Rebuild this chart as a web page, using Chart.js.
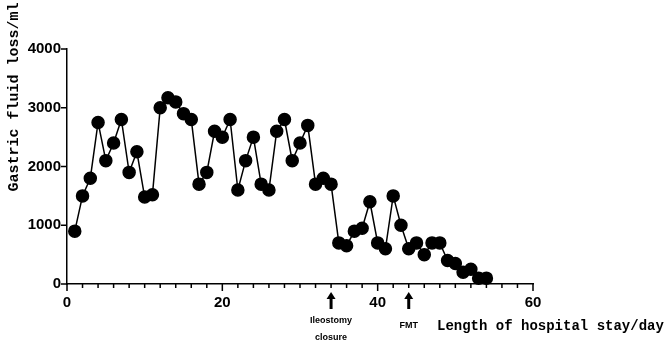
<!DOCTYPE html>
<html lang="en">
<head>
    <meta charset="UTF-8">
    <title>Gastric fluid loss by day</title>
    <script src="https://cdn.jsdelivr.net/npm/chart.js"></script>
    <style>
        html, body { margin: 0; padding: 0; background: #fff; }
        #wrap { width: 669px; height: 349px; }
    </style>
</head>
<body>
    <div id="wrap"><canvas id="fluidChart"></canvas></div>

    <script>
        // day of stay and gastric fluid loss (ml)
        const days = [1, 2, 3, 4, 5, 6, 7, 8, 9, 10, 11, 12, 13, 14, 15, 16, 17, 18,
            19, 20, 21, 22, 23, 24, 25, 26, 27, 28, 29, 30, 31, 32, 33, 34, 35, 36,
            37, 38, 39, 40, 41, 42, 43, 44, 45, 46, 47, 48, 49, 50, 51, 52, 53, 54];
        const fluidLoss = [900, 1500, 1800, 2750, 2100, 2400, 2800, 1900, 2250, 1480,
            1520, 3000, 3170, 3100, 2900, 2800, 1700, 1900, 2600, 2500, 2800, 1600,
            2100, 2500, 1700, 1600, 2600, 2800, 2100, 2400, 2700, 1700, 1800, 1700,
            700, 650, 900, 950, 1400, 700, 600, 1500, 1000, 600, 700, 500, 700, 700,
            400, 350, 200, 250, 100, 100];

        const xTicks = [0, 20, 40, 60];
        const yTicks = [0, 1000, 2000, 3000, 4000];

        // events marked under the x axis
        const eventDays = [34, 44];
        const eventLabels = [['Ileostomy', 'closure'], ['FMT']];

        const points = days.map((d, i) => ({ x: d, y: fluidLoss[i] }));

        // tick marks (major + minor), axis titles and event arrows
        const decorPlugin = {
            id: 'decor',
            afterDraw(chart) {
                const ctx = chart.ctx;
                const xs = chart.scales.x, ys = chart.scales.y;
                const left = xs.left, bottom = ys.bottom;
                ctx.save();
                ctx.strokeStyle = '#000';
                ctx.lineWidth = 1.5;
                ctx.beginPath();
                for (let v = 0; v <= 60; v += 2) {
                    const px = xs.getPixelForValue(v);
                    const len = (v % 20 === 0) ? 7 : 4;
                    ctx.moveTo(px, bottom);
                    ctx.lineTo(px, bottom + len);
                }
                yTicks.forEach(v => {
                    const py = ys.getPixelForValue(v);
                    ctx.moveTo(left, py);
                    ctx.lineTo(left - 6, py);
                });
                ctx.stroke();

                // arrows
                ctx.fillStyle = '#000';
                eventDays.forEach((d, i) => {
                    const px = xs.getPixelForValue(d);
                    const top = bottom + 8;
                    ctx.fillRect(px - 1.5, top + 6, 3, 11);
                    ctx.beginPath();
                    ctx.moveTo(px, top);
                    ctx.lineTo(px + 4.5, top + 7);
                    ctx.lineTo(px - 4.5, top + 7);
                    ctx.closePath();
                    ctx.fill();

                    ctx.font = 'bold 9px "Liberation Sans", sans-serif';
                    ctx.textAlign = 'center';
                    ctx.textBaseline = 'middle';
                    const lines = eventLabels[i];
                    const startY = lines.length > 1 ? bottom + 37 : bottom + 42;
                    lines.forEach((t, j) => ctx.fillText(t, px, startY + j * 17));
                });

                // axis titles
                ctx.font = 'bold 14px "Liberation Mono", monospace';
                ctx.textAlign = 'left';
                ctx.textBaseline = 'middle';
                ctx.fillText('Length of hospital stay/day', 437, 326);

                ctx.font = 'bold 15px "Liberation Mono", monospace';
                ctx.translate(14, 97);
                ctx.rotate(-Math.PI / 2);
                ctx.textAlign = 'center';
                ctx.fillText('Gastric fluid loss/ml', 0, 0);
                ctx.restore();
            }
        };

        const ctx = document.getElementById('fluidChart').getContext('2d');
        new Chart(ctx, {
            type: 'line',
            data: {
                datasets: [{
                    data: points,
                    borderColor: '#000',
                    borderWidth: 1.5,
                    backgroundColor: '#000',
                    pointBackgroundColor: '#000',
                    pointBorderColor: '#000',
                    pointRadius: 6,
                    pointHoverRadius: 6,
                    tension: 0,
                    clip: false
                }]
            },
            options: {
                responsive: true,
                maintainAspectRatio: false,
                animation: false,
                layout: { padding: { left: 0, top: 49, right: 136, bottom: 0 } },
                plugins: {
                    legend: { display: false },
                    tooltip: { enabled: false }
                },
                scales: {
                    x: {
                        type: 'linear',
                        min: 0,
                        max: 60,
                        afterBuildTicks: s => { s.ticks = xTicks.map(v => ({ value: v })); },
                        afterFit: s => { s.height = 65; },
                        grid: { display: false, drawTicks: false },
                        border: { display: true, color: '#000', width: 1.5 },
                        ticks: {
                            color: '#000',
                            padding: 10,
                            maxRotation: 0,
                            callback: v => String(v),
                            font: { family: '"Liberation Sans", Arial, sans-serif', size: 15, weight: 'bold' }
                        }
                    },
                    y: {
                        min: 0,
                        max: 4000,
                        afterBuildTicks: s => { s.ticks = yTicks.map(v => ({ value: v })); },
                        afterFit: s => { s.width = 67; },
                        grid: { display: false, drawTicks: false },
                        border: { display: true, color: '#000', width: 1.5 },
                        ticks: {
                            color: '#000',
                            padding: 6,
                            callback: v => String(v),
                            font: { family: '"Liberation Sans", Arial, sans-serif', size: 15, weight: 'bold' }
                        }
                    }
                }
            },
            plugins: [decorPlugin]
        });
    </script>
</body>
</html>
